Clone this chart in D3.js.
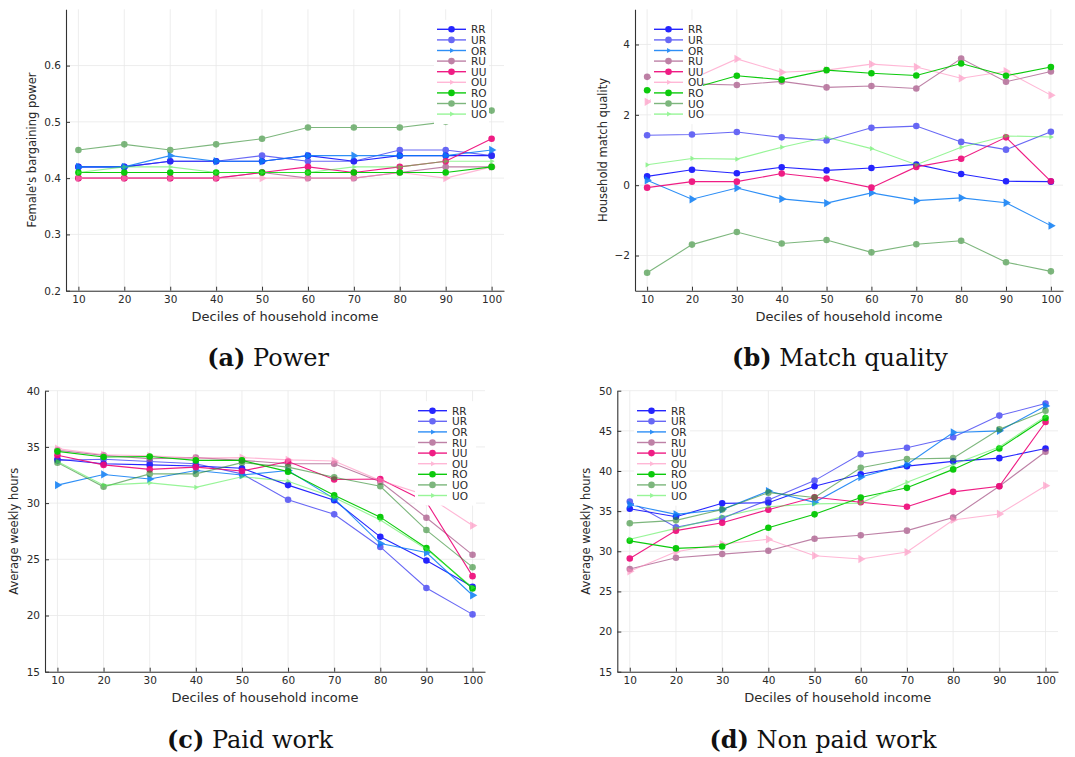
<!DOCTYPE html>
<html>
<head>
<meta charset="utf-8">
<script src="https://cdn.jsdelivr.net/npm/d3@7"></script>
<style>
  body { margin: 0; background: #fff; }
  svg { display: block; }
</style>
</head>
<body>
<svg id="fig" width="1075" height="757"></svg>
<script>
// x values shared by every panel
const deciles = [10, 20, 30, 40, 50, 60, 70, 80, 90, 100];
const seriesNames = ["RR", "UR", "OR", "RU", "UU", "OU", "RO", "UO", "UO"];

// rows follow seriesNames order
const power = [
    [0.42, 0.42, 0.43, 0.43, 0.43, 0.44, 0.43, 0.44, 0.44, 0.44],
    [0.42, 0.42, 0.43, 0.43, 0.44, 0.43, 0.43, 0.45, 0.45, 0.44],
    [0.42, 0.42, 0.44, 0.43, 0.43, 0.44, 0.44, 0.44, 0.44, 0.45],
    [0.40, 0.40, 0.40, 0.40, 0.41, 0.40, 0.40, 0.41, 0.42, 0.42],
    [0.40, 0.40, 0.40, 0.40, 0.41, 0.42, 0.41, 0.42, 0.43, 0.47],
    [0.40, 0.40, 0.40, 0.40, 0.40, 0.40, 0.40, 0.41, 0.40, 0.42],
    [0.41, 0.41, 0.41, 0.41, 0.41, 0.41, 0.41, 0.41, 0.41, 0.42],
    [0.45, 0.46, 0.45, 0.46, 0.47, 0.49, 0.49, 0.49, 0.50, 0.52],
    [0.41, 0.42, 0.42, 0.41, 0.41, 0.41, 0.42, 0.42, 0.43, 0.43]
];
const matchQuality = [
    [0.25, 0.44, 0.34, 0.51, 0.42, 0.49, 0.59, 0.32, 0.11, 0.10],
    [1.42, 1.44, 1.51, 1.36, 1.27, 1.63, 1.68, 1.23, 1.01, 1.52],
    [0.14, -0.40, -0.08, -0.39, -0.51, -0.22, -0.44, -0.36, -0.50, -1.15],
    [3.08, 2.88, 2.85, 2.95, 2.78, 2.82, 2.75, 3.60, 2.94, 3.23],
    [-0.07, 0.10, 0.10, 0.33, 0.19, -0.07, 0.52, 0.75, 1.36, 0.11],
    [2.37, 3.02, 3.59, 3.21, 3.27, 3.44, 3.36, 3.04, 3.24, 2.56],
    [2.70, 2.75, 3.11, 3.00, 3.27, 3.18, 3.12, 3.46, 3.11, 3.36],
    [-2.49, -1.69, -1.33, -1.66, -1.56, -1.91, -1.68, -1.58, -2.19, -2.45],
    [0.58, 0.76, 0.74, 1.08, 1.36, 1.04, 0.58, 1.08, 1.40, 1.37]
];
const paidWork = [
    [33.9, 33.5, 33.4, 33.3, 33.1, 31.6, 30.25, 27.0, 24.9, 22.55],
    [33.8, 33.9, 33.7, 33.5, 32.6, 30.3, 29.0, 26.1, 22.45, 20.1],
    [31.6, 32.55, 32.15, 32.9, 32.5, 32.9, 30.4, 26.4, 25.6, 21.8],
    [34.7, 34.25, 33.95, 34.05, 33.8, 33.5, 33.5, 31.9, 28.7, 25.4],
    [34.25, 33.4, 33.0, 33.2, 32.85, 33.7, 32.1, 32.15, 30.1, 23.5],
    [34.85, 34.3, 34.2, 34.0, 34.05, 33.85, 33.75, 32.0, 30.7, 28.0],
    [34.6, 34.1, 34.15, 33.8, 33.8, 32.8, 30.7, 28.75, 26.0, 22.4],
    [33.6, 31.45, 32.6, 32.6, 33.6, 33.2, 32.3, 31.5, 27.6, 24.3],
    [33.7, 31.6, 31.8, 31.4, 32.35, 31.95, 30.5, 28.5, 25.9, 22.5]
];
const nonPaidWork = [
    [35.3, 34.3, 35.97, 36.05, 38.1, 39.6, 40.6, 41.2, 41.6, 42.8],
    [36.2, 33.0, 34.1, 36.4, 38.8, 42.1, 42.9, 44.2, 46.9, 48.4],
    [35.8, 34.6, 35.2, 37.5, 36.1, 39.25, 40.8, 44.8, 45.0, 48.1],
    [27.8, 29.2, 29.65, 30.07, 31.57, 32.0, 32.57, 34.2, 38.1, 42.4],
    [29.1, 32.57, 33.56, 35.18, 36.72, 36.1, 35.55, 37.4, 38.1, 46.1],
    [27.5, 29.95, 30.9, 31.5, 29.45, 29.04, 29.9, 33.9, 34.64, 38.17],
    [31.3, 30.36, 30.6, 32.94, 34.6, 36.7, 37.9, 40.2, 42.8, 46.6],
    [33.5, 33.85, 35.2, 37.3, 36.7, 40.4, 41.5, 41.6, 45.2, 47.5],
    [31.5, 32.85, 34.3, 35.55, 35.9, 36.0, 38.6, 40.8, 43.0, 46.8]
];

// tick labels
const powerTicks = [0.2, 0.3, 0.4, 0.5, 0.6];
const matchTicks = [-2, 0, 2, 4];
const paidTicks = [15, 20, 25, 30, 35, 40];
const nonPaidTicks = [15, 20, 25, 30, 35, 40, 45, 50];

// look of each series, same order as seriesNames (size = symbol area, legSize = in legend)
const seriesStyle = [
    { color: "#0000ff", op: 0.85, shape: "circle", size: 34, legSize: 34 },
    { color: "#2f2ff2", op: 0.72, shape: "circle", size: 34, legSize: 34 },
    { color: "#0a7cf5", op: 0.85, shape: "tri", size: 30, legSize: 11 },
    { color: "#9c3f78", op: 0.65, shape: "circle", size: 34, legSize: 34 },
    { color: "#ee0a7a", op: 0.92, shape: "circle", size: 34, legSize: 34 },
    { color: "#ff88bb", op: 0.6, shape: "tri", size: 30, legSize: 11 },
    { color: "#00c800", op: 0.95, shape: "circle", size: 34, legSize: 34 },
    { color: "#2e8b2e", op: 0.62, shape: "circle", size: 34, legSize: 34 },
    { color: "#44ee44", op: 0.55, shape: "tri", size: 12, legSize: 11 }
];

const panels = [
    { data: power, ticks: powerTicks, domain: [0.2, 0.7], fmt: d3.format(".1f"),
      box: [66, 9.3, 504, 290.7], ylabel: "Female's bargaining power", ylabelX: 32,
      legend: [437, 29.3, 52], caption: ["(a)", " Power", 268, 366] },
    { data: matchQuality, ticks: matchTicks, domain: [-3, 5], fmt: d3.format("d"),
      box: [635, 9.3, 1063, 290.7], ylabel: "Household match quality", ylabelX: 603,
      legend: [654, 29.3, 49], caption: ["(b)", " Match quality", 840, 366] },
    { data: paidWork, ticks: paidTicks, domain: [15, 40], fmt: d3.format("d"),
      box: [45, 390.7, 485, 671.7], ylabel: "Average weekly hours", ylabelX: 14,
      legend: [418, 410.7, 58], caption: ["(c)", " Paid work", 250, 748] },
    { data: nonPaidWork, ticks: nonPaidTicks, domain: [15, 50], fmt: d3.format("d"),
      box: [617.3, 390.7, 1058, 671.7], ylabel: "Average weekly hours", ylabelX: 586,
      legend: [637, 410.7, 53], caption: ["(d)", " Non paid work", 823, 748] }
];

const svg = d3.select("#fig");
const sansFont = "DejaVu Sans, sans-serif";
const textColor = "#2a2a2a";

function markerPath(shape, size) {
    const type = shape === "tri" ? d3.symbolTriangle : d3.symbolCircle;
    return d3.symbol().type(type).size(size)();
}

function drawPanel(p) {
    const [x0, y0, x1, y1] = p.box;
    const x = d3.scaleLinear().domain([7.3, 102.7]).range([x0, x1]);
    const y = d3.scaleLinear().domain(p.domain).range([y1, y0]);
    const g = svg.append("g");

    // grid
    g.append("g").selectAll("line").data(deciles).join("line")
        .attr("x1", d => x(d)).attr("x2", d => x(d))
        .attr("y1", y0).attr("y2", y1)
        .attr("stroke", "#e9e9e9").attr("stroke-width", 0.8);
    g.append("g").selectAll("line").data(p.ticks).join("line")
        .attr("x1", x0).attr("x2", x1)
        .attr("y1", d => y(d)).attr("y2", d => y(d))
        .attr("stroke", "#e9e9e9").attr("stroke-width", 0.8);

    // axes
    const ax = g.append("g").attr("transform", `translate(0,${y1})`)
        .call(d3.axisBottom(x).tickValues(deciles).tickSizeInner(-4).tickSizeOuter(0).tickPadding(5));
    const ay = g.append("g").attr("transform", `translate(${x0},0)`)
        .call(d3.axisLeft(y).tickValues(p.ticks).tickFormat(p.fmt).tickSizeInner(-4).tickSizeOuter(0).tickPadding(5));
    [ax, ay].forEach(a => {
        a.select(".domain").attr("stroke", "#333").attr("stroke-width", 1.1);
        a.selectAll(".tick line").attr("stroke", "#333");
        a.selectAll("text").attr("font-family", sansFont).attr("font-size", 10.5).attr("fill", textColor);
    });

    // axis titles
    g.append("text")
        .attr("x", (x0 + x1) / 2).attr("y", y1 + 30)
        .attr("text-anchor", "middle")
        .attr("font-family", sansFont).attr("font-size", 13).attr("fill", textColor)
        .text("Deciles of household income");
    g.append("text")
        .attr("transform", `translate(${p.ylabelX},${(y0 + y1) / 2}) rotate(-90)`)
        .attr("text-anchor", "middle").attr("dominant-baseline", "middle")
        .attr("font-family", sansFont).attr("font-size", 11.5).attr("fill", textColor)
        .text(p.ylabel);

    // series
    const line = d3.line().x((d, i) => x(deciles[i])).y(d => y(d));
    p.data.forEach(function (vals, k) {
        const st = seriesStyle[k];
        const s = g.append("g").attr("opacity", st.op);
        s.append("path").datum(vals)
            .attr("d", line).attr("fill", "none")
            .attr("stroke", st.color).attr("stroke-width", 1.1);
        s.selectAll("path.m").data(vals).join("path").attr("class", "m")
            .attr("d", markerPath(st.shape, st.size))
            .attr("transform", (d, i) => `translate(${x(deciles[i])},${y(d)})` + (st.shape === "tri" ? " rotate(90)" : ""))
            .attr("fill", st.color);
    });

    // legend
    const [lx, ly, lw] = p.legend;
    const step = 10.6;
    const lg = g.append("g");
    lg.append("rect")
        .attr("x", lx - 3).attr("y", ly - 9.5)
        .attr("width", lw + 3).attr("height", step * seriesNames.length + 9)
        .attr("fill", "#fff");
    seriesNames.forEach(function (name, k) {
        const st = seriesStyle[k];
        const yy = ly + k * step;
        const e = lg.append("g").attr("opacity", st.op);
        e.append("line").attr("x1", lx).attr("x2", lx + 29).attr("y1", yy).attr("y2", yy)
            .attr("stroke", st.color).attr("stroke-width", 1.4);
        e.append("path").attr("d", markerPath(st.shape, st.legSize))
            .attr("transform", `translate(${lx + 14.5},${yy})` + (st.shape === "tri" ? " rotate(90)" : ""))
            .attr("fill", st.color);
        lg.append("text").attr("x", lx + 34).attr("y", yy)
            .attr("dominant-baseline", "central")
            .attr("font-family", sansFont).attr("font-size", 10.5).attr("fill", textColor)
            .text(name);
    });

    // caption
    const [bold, rest, cx, cy] = p.caption;
    const cap = svg.append("text")
        .attr("x", cx).attr("y", cy)
        .attr("text-anchor", "middle")
        .attr("font-family", "DejaVu Serif, serif").attr("font-size", 24).attr("fill", "#111");
    cap.append("tspan").attr("font-weight", "bold").text(bold);
    cap.append("tspan").text(rest);
}

panels.forEach(drawPanel);
</script>
</body>
</html>
